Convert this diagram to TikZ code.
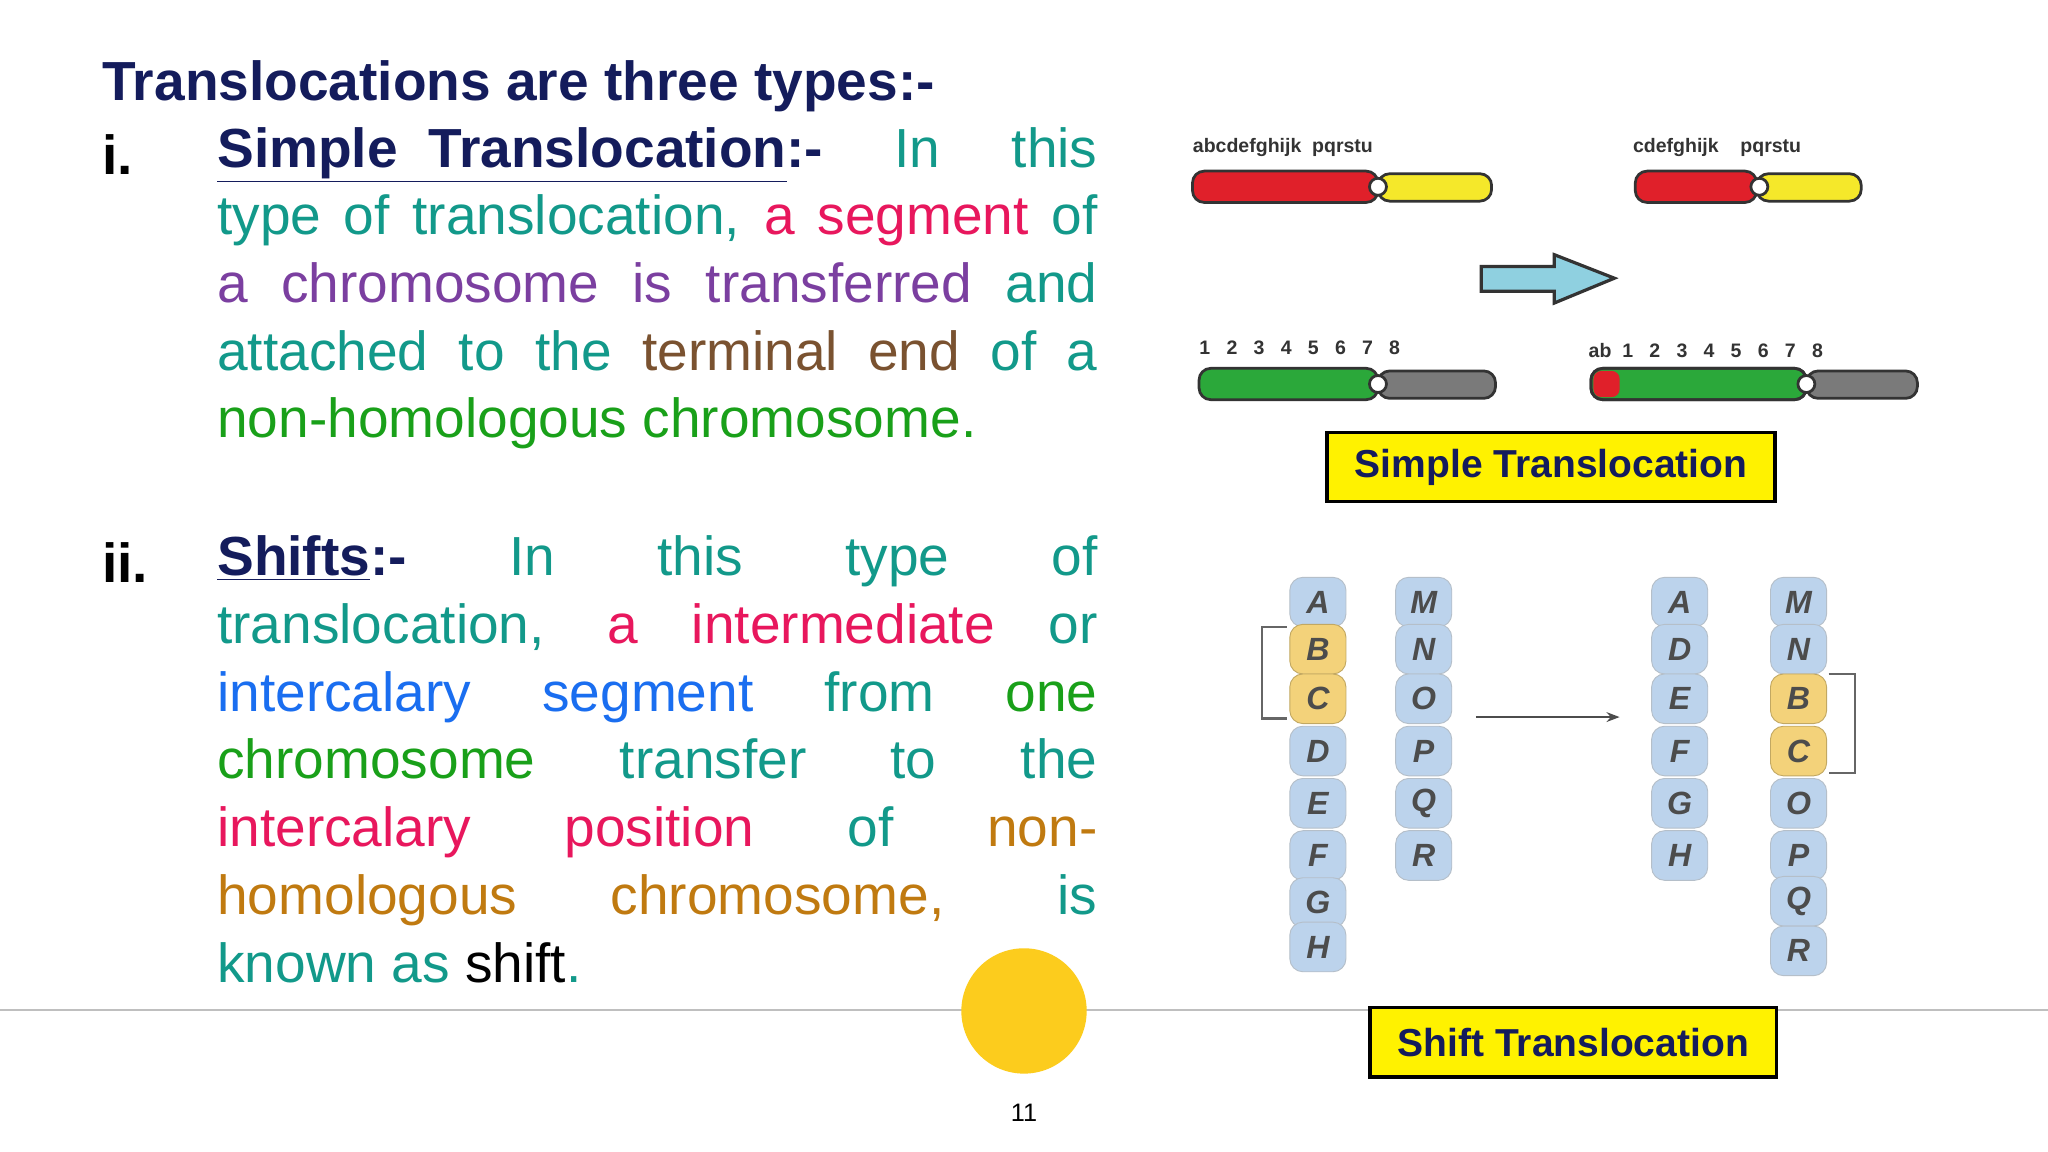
\documentclass[tikz,border=0pt]{standalone}
\usepackage{fontspec}
\setmainfont{Liberation Sans}
\usetikzlibrary{arrows.meta}
\definecolor{navy}{HTML}{141C5C}
\definecolor{teal}{HTML}{12998A}
\definecolor{pinkr}{HTML}{E8175D}
\definecolor{purp}{HTML}{7B3FA0}
\definecolor{brn}{HTML}{7A5230}
\definecolor{grn}{HTML}{19A019}
\definecolor{blu}{HTML}{1A6EF0}
\definecolor{orn}{HTML}{C07A10}
\definecolor{cellblue}{HTML}{BCD3EC}
\definecolor{cellyel}{HTML}{F3D27A}
\definecolor{chred}{HTML}{E0202A}
\definecolor{chyel}{HTML}{F5E82A}
\definecolor{chgrn}{HTML}{2BA83A}
\definecolor{chgry}{HTML}{7A7A7A}
\definecolor{arrblue}{HTML}{8FD0E0}
\begin{document}
\begin{tikzpicture}[x=0.02cm,y=-0.02cm,
  body/.style={anchor=north west,inner sep=0,text width=13.48cm,align=justify,font=\fontsize{24}{29.5}\selectfont},
  chrom/.style={draw=black!80,line width=1.2pt,rounded corners=0.18cm},
  lab/.style={font=\bfseries\fontsize{8.5}{9}\selectfont,text=black!80,inner sep=0},
  cen/.style={circle,draw=black!80,fill=white,line width=1.2pt,inner sep=0,minimum size=0.26cm},
  cell/.style={draw=cellblue!70!black!60,fill=cellblue,rounded corners=0.2cm,minimum width=0.86cm,minimum height=0.76cm,inner sep=0,font=\bfseries\itshape\rmfamily\fontsize{14}{14}\selectfont,text=black!70},
  ycell/.style={cell,fill=cellyel,draw=cellyel!80!black},
  tbox/.style={draw=black,line width=1.5pt,fill=yellow,inner sep=0,minimum height=1.06cm,font=\bfseries\fontsize{17}{17}\selectfont,text=navy}]
\useasboundingbox (0,0) rectangle (1568,882);
\fill[white] (0,0) rectangle (1568,882);
% title
\node[anchor=west,inner sep=0,font=\bfseries\fontsize{24}{29.5}\selectfont,text=navy] (title) at (78,66) {Translocations are three types:-};
\node[anchor=west,inner sep=0,font=\bfseries\fontsize{24}{29.5}\selectfont] (n1) at (78,118) {i.};
\node[anchor=west,inner sep=0,font=\bfseries\fontsize{24}{29.5}\selectfont] (n2) at (78,431) {ii.};
\node[body] (p1) at (166,97) {\textcolor{navy}{\textbf{\underline{Simple\ \ Translocation}:-}} \textcolor{teal}{In this}\linebreak
\textcolor{teal}{type of translocation,} \textcolor{pinkr}{a segment} \textcolor{teal}{of}\linebreak
\textcolor{purp}{a chromosome is transferred} \textcolor{teal}{and}\linebreak
\textcolor{teal}{attached to the} \textcolor{brn}{terminal end} \textcolor{teal}{of a}\linebreak
\textcolor{grn}{non-homologous chromosome.}};
\node[body] (p2) at (166,410) {\textcolor{navy}{\textbf{\underline{Shifts}:-}} \textcolor{teal}{In this type of}\linebreak
\textcolor{teal}{translocation,} \textcolor{pinkr}{a intermediate} \textcolor{teal}{or}\linebreak
\textcolor{blu}{intercalary segment} \textcolor{teal}{from} \textcolor{grn}{one}\linebreak
\textcolor{grn}{chromosome} \textcolor{teal}{transfer to the}\linebreak
\textcolor{pinkr}{intercalary position} \textcolor{teal}{of} \textcolor{orn}{non-}\linebreak
\textcolor{orn}{homologous chromosome,} \textcolor{teal}{is}\linebreak
\textcolor{teal}{known as} shift\textcolor{teal}{.}};
% footer
\draw[black!25,line width=0.8pt] (0,773) -- (1568,773);
\node[circle,fill=yellow!60!orange!90,minimum size=1.92cm,inner sep=0] (dot) at (784,774) {};
\node[font=\rmfamily\fontsize{11}{11}\selectfont] (pg) at (784,852) {11};
% simple translocation chromosomes
\draw[chrom,fill=chred] (913,131) rectangle (1055,155);
\draw[chrom,fill=chyel] (1055,133) rectangle (1142,154);
\node[cen] (c1) at (1055,143) {};
\node[lab,anchor=west] (l1) at (913,113) {abcdefghijk\ \ pqrstu};
\draw[chrom,fill=chred] (1252,131) rectangle (1345,155);
\draw[chrom,fill=chyel] (1345,133) rectangle (1425,154);
\node[cen] (c2) at (1347,143) {};
\node[lab,anchor=west] (l2) at (1250,113) {cdefghijk\ \ \ \ pqrstu};
\draw[chrom,fill=chgrn] (918,282) rectangle (1055,306);
\draw[chrom,fill=chgry] (1055,284) rectangle (1145,305);
\node[cen] (c3) at (1055,294) {};
\node[lab,anchor=west] (l3) at (918,266) {1\ \ \ 2\ \ \ 3\ \ \ 4\ \ \ 5\ \ \ 6\ \ \ 7\ \ \ 8};
\draw[chrom,fill=chgrn] (1218,282) rectangle (1383,306);
\fill[chred,rounded corners=0.12cm] (1220,284) rectangle (1240,304);
\draw[chrom] (1218,282) rectangle (1383,306);
\draw[chrom,fill=chgry] (1383,284) rectangle (1468,305);
\node[cen] (c4) at (1383,294) {};
\node[lab,anchor=west] (l4) at (1216,268) {ab\ \ 1\ \ \ 2\ \ \ 3\ \ \ 4\ \ \ 5\ \ \ 6\ \ \ 7\ \ \ 8};
\draw[fill=arrblue,draw=black!80,line width=1.4pt] (1134,204) -- (1190,204) -- (1190,195) -- (1236,213) -- (1190,232) -- (1190,223) -- (1134,223) -- cycle;
\node[tbox,minimum width=6.86cm] (b1) at (1187.5,357.5) {Simple Translocation};
% shift chromosomes
\foreach \l/\y/\s [count=\i] in {A/461/cell,B/497/ycell,C/535/ycell,D/575/cell,E/615/cell,F/655/cell,G/691/cell,H/725/cell}
  \node[\s] (a\i) at (1009,\y) {\l};
\foreach \l/\y/\s [count=\i] in {M/461/cell,N/497/cell,O/535/cell,P/575/cell,Q/615/cell,R/655/cell}
  \node[\s] (b\i) at (1090,\y) {\l};
\foreach \l/\y/\s [count=\i] in {A/461/cell,D/497/cell,E/535/cell,F/575/cell,G/615/cell,H/655/cell}
  \node[\s] (c\i) at (1286,\y) {\l};
\foreach \l/\y/\s [count=\i] in {M/461/cell,N/497/cell,B/535/ycell,C/575/ycell,O/615/cell,P/655/cell,Q/690/cell,R/728/cell}
  \node[\s] (d\i) at (1377,\y) {\l};
\draw[black!60,line width=1pt] (985,480) -- (966,480) -- (966,550) -- (985,550);
\draw[black!60,line width=1pt] (1400,516) -- (1420,516) -- (1420,592) -- (1400,592);
\coordinate (s1) at (1130,549); \coordinate (s2) at (1240,549);
\draw[black!70,line width=1pt,-{Stealth[length=0.2cm]}] (s1) -- (s2);
\node[tbox,minimum width=6.22cm] (b2) at (1204.5,798) {Shift Translocation};
\end{tikzpicture}
\end{document}
